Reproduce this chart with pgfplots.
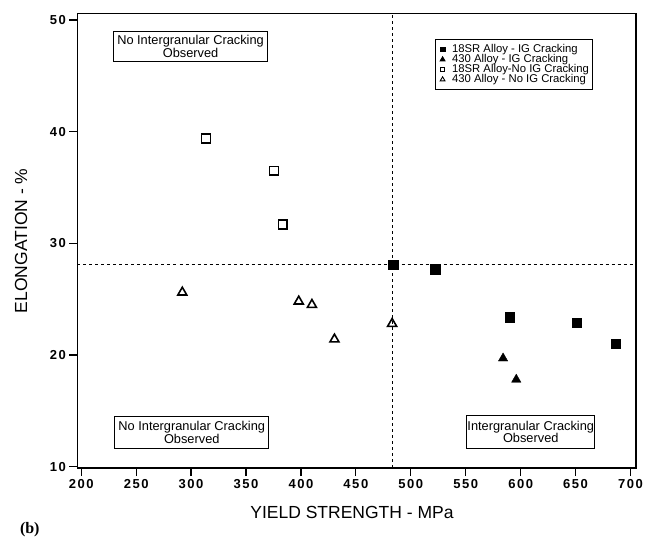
\documentclass[border=0pt]{standalone}
\usepackage{fontspec}
\setmainfont{Liberation Sans}
\newfontfamily\tickfont[LetterSpace=12]{Liberation Sans}
\newfontfamily\serifb{Liberation Serif}
\usepackage{pgfplots}
\pgfplotsset{compat=1.18}
\begin{document}
\begin{tikzpicture}
\useasboundingbox (-77.5bp,-78bp) rectangle (574.5bp,468bp);
\begin{axis}[
  at={(0,0)}, anchor=south west,
  scale only axis, width=558.5bp, height=454.3bp,
  xmin=196.6, xmax=705, ymin=9.88, ymax=50.56,
  xtick={200,250,...,700}, ytick={10,20,...,50},
  tick align=outside, xtick pos=bottom, ytick pos=left,
  major tick length=8bp,
  axis line style={line width=1.3bp},
  every tick/.style={line width=1.2bp, black},
  /pgf/number format/assume math mode=true,
  ticklabel style={font=\tickfont\bfseries\fontsize{13bp}{15bp}\selectfont},
  xlabel={YIELD STRENGTH - MPa}, ylabel={ELONGATION - \%},
  label style={font=\fontsize{17.5bp}{19bp}\selectfont},
  xlabel style={at={(axis description cs:0.4915,0)}, anchor=center, yshift=-44bp},
  ylabel style={at={(axis description cs:-0.101,0.5)}, anchor=center},
  clip=false,
  legend style={at={(axis cs:521.7,48.27)}, anchor=north west, draw=black, line width=0.9bp,
    font=\fontsize{11.3bp}{10bp}\selectfont, inner xsep=3bp, inner ysep=5bp, row sep=0.5bp,
    nodes={inner sep=0pt, text height=7.5bp, text depth=2bp},
    /tikz/every odd column/.append style={column sep=5bp}},
  legend cell align=left,
  legend image code/.code={\path[draw=none,fill=none] (0bp,-2bp) rectangle (9bp,2bp);\draw[#1, only marks] plot coordinates {(4.5bp,0bp)};},
]
% reference lines
\addplot[forget plot, black, line width=1.2bp, dash pattern=on 3bp off 3bp] coordinates {(196.6,28.1) (705,28.1)};
\addplot[forget plot, black, line width=1.2bp, dash pattern=on 3bp off 3bp] coordinates {(483.7,9.88) (483.7,50.56)};

\addplot[only marks, mark=square*, mark size=4.8bp, black, legend image post style={mark size=2.4bp}]
  coordinates {(484,28.1) (522,27.7) (590,23.4) (651,22.9) (686.5,21.0)};
\addlegendentry{18SR Alloy - IG Cracking}
\addplot[only marks, mark=triangle*, mark size=5.4bp, black, legend image post style={mark size=2.7bp}]
  coordinates {(584,19.7) (596,17.8)};
\addlegendentry{430 Alloy - IG Cracking}
\addplot[only marks, mark=square, mark size=4.4bp, black, line width=1.6bp, legend image post style={mark size=2.3bp, line width=0.9bp}]
  coordinates {(313.5,39.4) (375.5,36.5) (383.5,31.7)};
\addlegendentry{18SR Alloy-No IG Cracking}
\addplot[only marks, mark=triangle, mark size=5.2bp, black, line width=1.6bp, legend image post style={mark size=2.7bp, line width=0.9bp}]
  coordinates {(292,25.6) (398,24.8) (410,24.5) (430.5,21.4) (483,22.8)};
\addlegendentry{430 Alloy - No IG Cracking}

% annotation boxes
\draw[line width=0.9bp, fill=white] (axis cs:229.4,46.27) rectangle (axis cs:369.6,48.95);
\node[align=center, font=\fontsize{12.8bp}{12.5bp}\selectfont] at (axis cs:299.5,47.61) {No Intergranular Cracking\\Observed};
\draw[line width=0.9bp, fill=white] (axis cs:230.5,11.65) rectangle (axis cs:370.7,14.48);
\node[align=center, font=\fontsize{12.8bp}{12.5bp}\selectfont] at (axis cs:300.6,13.06) {No Intergranular Cracking\\Observed};
\draw[line width=0.9bp, fill=white] (axis cs:551,11.67) rectangle (axis cs:667.4,14.55);
\node[align=center, font=\fontsize{12.8bp}{12.5bp}\selectfont] at (axis cs:609.2,13.11) {Intergranular Cracking\\Observed};
\end{axis}
\node[anchor=west, font=\serifb\bfseries\fontsize{16bp}{18bp}\selectfont] at (-61bp,-62bp) {(b)};
\end{tikzpicture}
\end{document}
